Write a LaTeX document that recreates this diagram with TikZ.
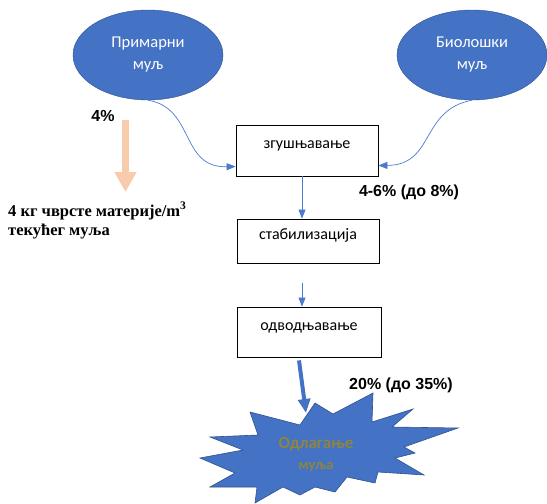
\documentclass[tikz,border=0pt]{standalone}
\usepackage{fontspec}
\setmainfont{Carlito}
\newfontfamily\arialfont{Liberation Sans}
\newfontfamily\timesfont{Liberation Serif}
\usetikzlibrary{shapes.geometric,arrows.meta}

\definecolor{mulj}{HTML}{4472C4}
\definecolor{muljline}{HTML}{2F528F}
\definecolor{flow}{HTML}{4A7BD0}
\definecolor{peach}{HTML}{F8CBAD}
\definecolor{wordart}{HTML}{8F8440}

\begin{document}
\begin{tikzpicture}[x=1pt,y=-1pt,
    source/.style={ellipse,draw=muljline,fill=mulj,text=white,minimum width=150pt,minimum height=90pt,align=center,font=\fontsize{16.5}{22}\selectfont},
    stage/.style={draw,line width=0.8pt,minimum width=142pt,text height=10pt,text depth=14pt,font=\fontsize{16}{19}\selectfont},
    thin/.style={flow,line width=0.7pt,-{Triangle[width=7pt,length=9pt]}},
    pct/.style={font=\arialfont\bfseries\fontsize{16}{19}\selectfont}]
    \useasboundingbox (0,0) rectangle (547,504);

    % sources
    \node[source] (prim) at (148,55) {Примарни\\муљ};
    \node[source] (bio) at (472,55) {Биолошки\\муљ};

    % treatment steps
    \node[stage,minimum height=51pt] (zgu) at (307,150.5) {згушњавање};
    \node[stage,minimum height=44pt] (stab) at (308,241) {стабилизација};
    \node[stage,minimum height=50pt,minimum width=144pt] (odv) at (309,332) {одводњавање};

    % disposal star
    \filldraw[fill=mulj,draw=muljline,line width=0.6pt] (300,425) -- (315,403) -- (333,414) -- (373,393) -- (372,422)
        -- (413,409) -- (392,427) -- (458,428) -- (404,447) -- (415,453) -- (395,458) -- (424,475)
        -- (378,472) -- (375,483) -- (347,477) -- (335,492) -- (315,487) -- (300,495) -- (283,487)
        -- (255,503) -- (257,487) -- (210,487) -- (235,473) -- (200,458) -- (243,450) -- (210,437)
        -- (258,435) -- (250,412) -- cycle;
    \node[text=wordart,font=\bfseries\fontsize{17}{20}\selectfont] (odl) at (316,444) {Одлагање};
    \node[text=wordart,font=\bfseries\fontsize{14.5}{16}\selectfont] (odlmulj) at (316,467) {муља};

    % flows
    \draw[thin] (prim.south) .. controls (195,108) and (180,168) .. ([yshift=-16pt]zgu.west);
    \draw[thin] (bio.south) .. controls (420,110) and (435,165) .. ([yshift=-15pt]zgu.east);
    \draw[thin] ([xshift=-5pt]zgu.south) -- ([xshift=-6pt]stab.north);
    \coordinate (gap) at (302,283);
    \draw[thin] (gap) -- (gap |- odv.north);
    \coordinate (startop) at (306,413);
    \draw[mulj,line width=4pt,-{Triangle[width=12pt,length=14pt]}] ([xshift=-10pt,yshift=-3pt]odv.south) -- (startop);

    % drained water
    \coordinate (drytop) at (125.5,120);
    \coordinate (drybot) at (125.5,192);
    \draw[peach,line width=7pt,-{Triangle[width=21pt,length=20pt]}] (drytop) -- (drybot);

    % labels
    \node[pct] (p4) at (103,116) {4\%};
    \node[pct] (p46) at (409,192) {4-6\% (до 8\%)};
    \node[pct] (p20) at (401,385) {20\% (до 35\%)};
    \node[anchor=north west,align=left,inner sep=0pt,font=\timesfont\bfseries\fontsize{16.5}{19}\selectfont] (solids) at (8,202) {4 кг чврсте материје/m\textsuperscript{3}\\текућег муља};
\end{tikzpicture}
\end{document}
